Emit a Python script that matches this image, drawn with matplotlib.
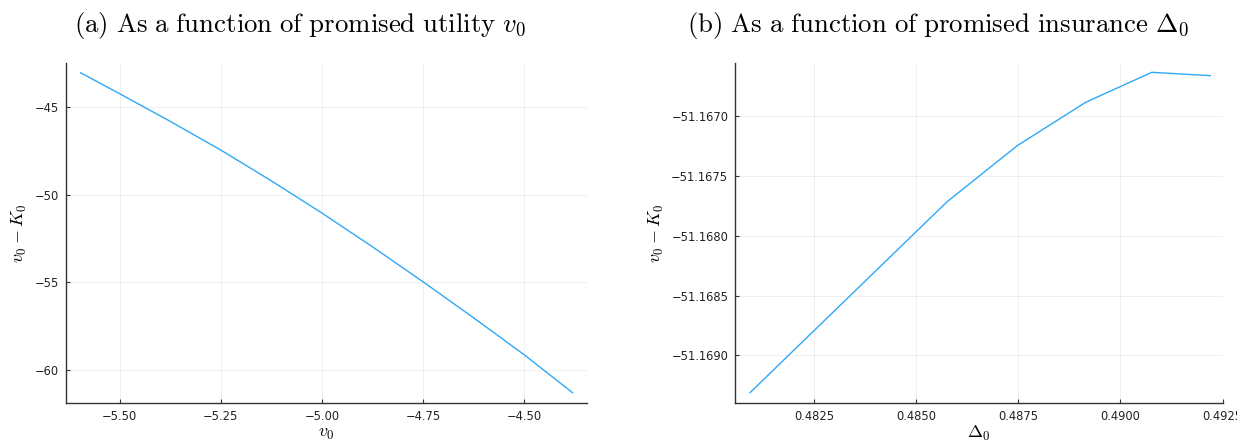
import matplotlib
matplotlib.use("Agg")
import matplotlib.pyplot as plt
from matplotlib.ticker import FuncFormatter

plt.rcParams["mathtext.fontset"] = "cm"
plt.rcParams["font.family"] = "DejaVu Sans"

# (a) surplus against promised utility
v0 = [-5.596, -5.5, -5.375, -5.25, -5.125, -5.0, -4.875, -4.75, -4.625, -4.5, -4.381]
surplus_v = [-43.03, -44.22, -45.80, -47.44, -49.20, -51.04, -52.97, -54.97, -57.03, -59.14, -61.30]

# (b) surplus against promised insurance
delta0 = [0.480939, 0.485760, 0.487475, 0.489150, 0.490767, 0.492196]
surplus_d = [-51.169313, -51.167715, -51.167246, -51.166883, -51.166632, -51.166660]

v_ticks = [-5.50, -5.25, -5.00, -4.75, -4.50]
v_yticks = [-45, -50, -55, -60]
d_ticks = [0.4825, 0.4850, 0.4875, 0.4900, 0.4925]
d_yticks = [-51.1670, -51.1675, -51.1680, -51.1685, -51.1690]

line_color = "#2EA8F7"


def fmt(spec):
    return FuncFormatter(lambda x, pos: format(x, spec).replace("-", "\u2212"))


def style(ax):
    for side in ("top", "right"):
        ax.spines[side].set_visible(False)
    for side in ("left", "bottom"):
        ax.spines[side].set_linewidth(1.0)
        ax.spines[side].set_color("#333333")
    ax.grid(True, color="#000000", alpha=0.07, linewidth=0.6)
    ax.set_axisbelow(True)
    ax.tick_params(direction="in", length=3, width=0.8, labelsize=8.3,
                   colors="#333333", labelcolor="#222222", pad=5)


fig = plt.figure(figsize=(12.37, 4.43), dpi=100)

ax1 = fig.add_axes([0.0531, 0.0910, 0.4212, 0.7668])
ax1.plot(v0, surplus_v, color=line_color, linewidth=1.0)
ax1.set_xlim(-5.633, -4.346)
ax1.set_ylim(-61.87, -42.47)
ax1.set_xticks(v_ticks)
ax1.set_yticks(v_yticks)
ax1.xaxis.set_major_formatter(fmt(".2f"))
ax1.yaxis.set_major_formatter(fmt(".0f"))
style(ax1)
ax1.set_xlabel(r"$v_0$", fontsize=13, labelpad=1)
ax1.set_ylabel(r"$v_0 - K_0$", fontsize=13, labelpad=4)

ax2 = fig.add_axes([0.5944, 0.0910, 0.3940, 0.7668])
ax2.plot(delta0, surplus_d, color=line_color, linewidth=1.0)
ax2.set_xlim(0.480578, 0.4925)
ax2.set_ylim(-51.169397, -51.166554)
ax2.set_xticks(d_ticks)
ax2.set_yticks(d_yticks)
ax2.xaxis.set_major_formatter(fmt(".4f"))
ax2.yaxis.set_major_formatter(fmt(".4f"))
style(ax2)
ax2.set_xlabel(r"$\Delta_0$", fontsize=13, labelpad=1)
ax2.set_ylabel(r"$v_0 - K_0$", fontsize=13, labelpad=4)

fig.text(0.2425, 0.928, r"$\mathrm{(a)\ As\ a\ function\ of\ promised\ utility}\ v_0$",
         fontsize=19.3, ha="center", va="baseline")
fig.text(0.7583, 0.928, r"$\mathrm{(b)\ As\ a\ function\ of\ promised\ insurance}\ \Delta_0$",
         fontsize=19.3, ha="center", va="baseline")

fig.savefig("out.png", dpi=100)
